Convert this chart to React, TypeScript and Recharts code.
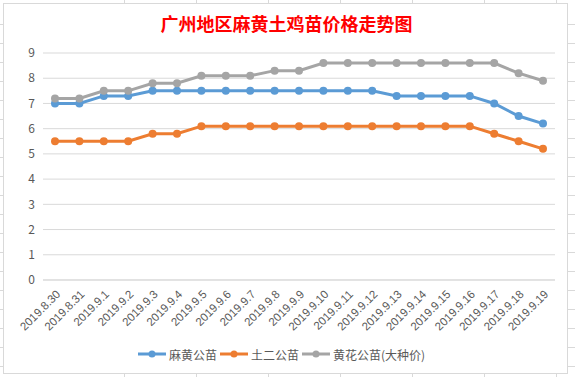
import React from 'react';
import { LineChart, Line, XAxis, YAxis, CartesianGrid, Legend } from 'recharts';

const dates = [
  '2019.8.30', '2019.8.31', '2019.9.1', '2019.9.2', '2019.9.3', '2019.9.4', '2019.9.5',
  '2019.9.6', '2019.9.7', '2019.9.8', '2019.9.9', '2019.9.10', '2019.9.11', '2019.9.12',
  '2019.9.13', '2019.9.14', '2019.9.15', '2019.9.16', '2019.9.17', '2019.9.18', '2019.9.19',
];

const mahuang = [7.0, 7.0, 7.3, 7.3, 7.5, 7.5, 7.5, 7.5, 7.5, 7.5, 7.5, 7.5, 7.5, 7.5, 7.3, 7.3, 7.3, 7.3, 7.0, 6.5, 6.2];
const tuer = [5.5, 5.5, 5.5, 5.5, 5.8, 5.8, 6.1, 6.1, 6.1, 6.1, 6.1, 6.1, 6.1, 6.1, 6.1, 6.1, 6.1, 6.1, 5.8, 5.5, 5.2];
const huanghua = [7.2, 7.2, 7.5, 7.5, 7.8, 7.8, 8.1, 8.1, 8.1, 8.3, 8.3, 8.6, 8.6, 8.6, 8.6, 8.6, 8.6, 8.6, 8.6, 8.2, 7.9];

const yTicks = [0, 1, 2, 3, 4, 5, 6, 7, 8, 9];

const series = [
  { key: 'mahuang', name: '麻黄公苗', color: '#5B9BD5' },
  { key: 'tuer', name: '土二公苗', color: '#ED7D31' },
  { key: 'huanghua', name: '黄花公苗(大种价)', color: '#A5A5A5' },
];

const data = dates.map((date, i) => ({
  date,
  mahuang: mahuang[i],
  tuer: tuer[i],
  huanghua: huanghua[i],
}));

const font = '"Noto Sans CJK SC", "Liberation Sans", sans-serif';

function DateTick({ x, y, payload }: any) {
  return (
    <g transform={`translate(${x + 6},${y + 7})`}>
      <text
        x={0}
        y={0}
        textAnchor="end"
        fill="#595959"
        fontSize={11.5}
        fontFamily='"Liberation Sans", sans-serif'
        transform="rotate(-45)"
      >
        {payload.value}
      </text>
    </g>
  );
}

function LegendContent() {
  return (
    <div style={{ display: 'flex', justifyContent: 'center', alignItems: 'center', height: 20, paddingLeft: 8 }}>
      {series.map((s) => (
        <div key={s.key} style={{ display: 'flex', alignItems: 'center', marginRight: 3 }}>
          <svg width={28} height={10} style={{ marginRight: 3 }}>
            <line x1={0} y1={5} x2={28} y2={5} stroke={s.color} strokeWidth={3} />
            <circle cx={14} cy={5} r={3.5} fill={s.color} />
          </svg>
          <span style={{ fontSize: 12, color: '#595959', fontFamily: font }}>{s.name}</span>
        </div>
      ))}
    </div>
  );
}

export default function App() {
  return (
    <div
      style={{
        position: 'absolute',
        left: 0,
        top: 0,
        width: 575,
        height: 377,
        background: '#fff',
        backgroundImage:
          'repeating-linear-gradient(to right, transparent 0 71px, #D9D9D9 71px 72px), repeating-linear-gradient(to bottom, transparent 0 18px, #D9D9D9 18px 19px)',
        backgroundPosition: '53px 0, 0 6px',
      }}
    >
      <div
        style={{
          position: 'absolute',
          left: 3,
          top: 3,
          width: 565,
          height: 371,
          background: '#fff',
          border: '1px solid #D9D9D9',
          boxSizing: 'border-box',
        }}
      >
        <div
          style={{
            position: 'absolute',
            left: 0,
            top: 8,
            width: 565,
            textAlign: 'center',
            color: '#FF0000',
            fontSize: 18,
            fontWeight: 700,
            fontFamily: font,
            lineHeight: '22px',
          }}
        >
          广州地区麻黄土鸡苗价格走势图
        </div>
        <div style={{ position: 'absolute', left: -1, top: -1 }}>
          <LineChart width={565} height={371} data={data} margin={{ top: 50, right: 13, bottom: 10, left: 0 }}>
            <CartesianGrid vertical={false} stroke="#D9D9D9" />
            <XAxis
              dataKey="date"
              interval={0}
              height={64}
              padding={{ left: 12, right: 12 }}
              tick={<DateTick />}
              tickLine={false}
              axisLine={{ stroke: '#D9D9D9' }}
            />
            <YAxis
              width={40}
              domain={[0, 9]}
              ticks={yTicks}
              tickLine={false}
              axisLine={false}
              tick={{ fill: '#595959', fontSize: 12, fontFamily: font }}
            />
            <Legend verticalAlign="bottom" content={<LegendContent />} />
            {series.map((s) => (
              <Line
                key={s.key}
                dataKey={s.key}
                name={s.name}
                stroke={s.color}
                strokeWidth={3}
                type="linear"
                dot={{ r: 4, fill: s.color, stroke: s.color, strokeWidth: 0 }}
                activeDot={false}
                isAnimationActive={false}
              />
            ))}
          </LineChart>
        </div>
      </div>
    </div>
  );
}
